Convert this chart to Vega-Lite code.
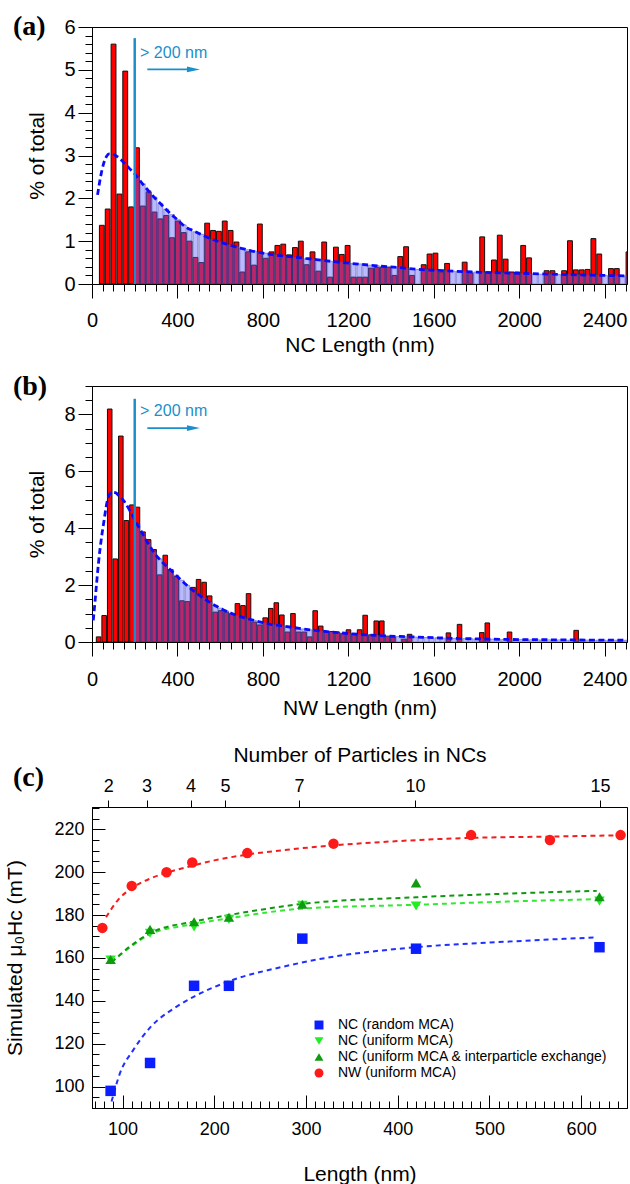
{
"$schema":"https://vega.github.io/schema/vega-lite/v6.json",
"padding":{"left":4,"top":12,"right":2,"bottom":4},
"autosize":{"type":"pad"},
"config":{"font":"Liberation Sans","view":{"stroke":"#000000","strokeWidth":1},
"axis":{"labelColor":"#000000","titleColor":"#000000","titleFontWeight":"normal","domainColor":"#000000","tickColor":"#000000","tickWidth":1,"domainWidth":1,"grid":false,"labelFont":"Liberation Sans","titleFont":"Liberation Sans","labelFlush":false,"labelOverlap":false,"labelBound":false}},
"datasets":{
"histA":[
{"L":30,"red":1.37},{"L":57.4,"red":1.75},{"L":84.8,"red":5.6},{"L":112.2,"red":2.1},{"L":139.6,"red":4.97},{"L":167,"red":1.8},
{"L":194.4,"red":3.18,"blue":2.5},{"L":221.8,"red":1.82,"blue":2.34},{"L":249.2,"red":2.15,"blue":2.18},{"L":276.6,"red":1.68,"blue":2.03},
{"L":304,"red":1.52,"blue":1.88},{"L":331.4,"red":1.6,"blue":1.75},{"L":358.8,"red":1.08,"blue":1.62},{"L":386.2,"red":1.47,"blue":1.5},
{"L":413.6,"red":1.2,"blue":1.38},{"L":441,"red":1.0,"blue":1.29},{"L":468.4,"red":0.62,"blue":1.22},{"L":495.8,"red":0.5,"blue":1.16},
{"L":523.2,"red":1.42,"blue":1.1},{"L":550.6,"red":1.25,"blue":1.04},{"L":578,"red":1.23,"blue":0.99},{"L":605.4,"red":1.47,"blue":0.95},
{"L":632.8,"red":1.25,"blue":0.91},{"L":660.2,"red":0.98,"blue":0.87},{"L":687.6,"red":0.28,"blue":0.83},{"L":715,"red":0.75,"blue":0.8},
{"L":742.4,"red":0.44,"blue":0.77},{"L":769.8,"red":1.4,"blue":0.74},{"L":797.2,"red":0.6,"blue":0.72},{"L":824.6,"red":0.75,"blue":0.7},
{"L":852,"red":0.9,"blue":0.68},{"L":879.4,"red":0.93,"blue":0.66},{"L":906.8,"red":0.68,"blue":0.64},{"L":934.2,"red":0.85,"blue":0.62},
{"L":961.6,"red":1.0,"blue":0.61},{"L":989,"red":0.45,"blue":0.59},{"L":1016.4,"red":0.75,"blue":0.58},{"L":1043.8,"red":0.3,"blue":0.56},
{"L":1071.2,"red":0.98,"blue":0.55},{"L":1098.6,"red":0.16,"blue":0.53},{"L":1126,"red":0.86,"blue":0.52},{"L":1153.4,"red":0.69,"blue":0.51},
{"L":1180.8,"red":0.9,"blue":0.49},{"L":1208.2,"red":0.16,"blue":0.48},{"L":1235.6,"red":0.16,"blue":0.47},{"L":1263,"red":0.16,"blue":0.45},
{"L":1290.4,"red":0.37,"blue":0.44},{"L":1317.8,"red":0.39,"blue":0.43},{"L":1345.2,"red":0.39,"blue":0.41},{"L":1372.6,"red":0.39,"blue":0.4},
{"L":1400,"red":0.2,"blue":0.39},{"L":1427.4,"red":0.64,"blue":0.38},{"L":1454.8,"red":0.87,"blue":0.37},{"L":1482.2,"red":0.2,"blue":0.35},
{"L":1509.6,"red":0,"blue":0.34},{"L":1537,"red":0.45,"blue":0.34},{"L":1564.4,"red":0.7,"blue":0.33},{"L":1591.8,"red":0.72,"blue":0.32},
{"L":1619.2,"red":0.28,"blue":0.32},{"L":1646.6,"red":0.48,"blue":0.31},{"L":1674,"red":0,"blue":0.3},{"L":1701.4,"red":0,"blue":0.3},
{"L":1728.8,"red":0.51,"blue":0.29},{"L":1756.2,"red":0.26,"blue":0.29},{"L":1783.6,"red":0,"blue":0.28},{"L":1811,"red":1.1,"blue":0.27},
{"L":1838.4,"red":0.28,"blue":0.27},{"L":1865.8,"red":0.56,"blue":0.26},{"L":1893.2,"red":1.14,"blue":0.26},{"L":1920.6,"red":0.58,"blue":0.26},
{"L":1948,"red":0.28,"blue":0.25},{"L":1975.4,"red":0.28,"blue":0.25},{"L":2002.8,"red":0.9,"blue":0.24},{"L":2030.2,"red":0.61,"blue":0.24},
{"L":2057.6,"red":0,"blue":0.24},{"L":2085,"red":0,"blue":0.23},{"L":2112.4,"red":0.31,"blue":0.23},{"L":2139.8,"red":0.31,"blue":0.23},
{"L":2167.2,"red":0,"blue":0.22},{"L":2194.6,"red":0.31,"blue":0.22},{"L":2222,"red":1.01,"blue":0.22},{"L":2249.4,"red":0.33,"blue":0.21},
{"L":2276.8,"red":0.33,"blue":0.21},{"L":2304.2,"red":0.34,"blue":0.21},{"L":2331.6,"red":1.06,"blue":0.21},{"L":2359,"red":0.7,"blue":0.2},
{"L":2386.4,"red":0,"blue":0.2},{"L":2413.8,"red":0.36,"blue":0.2},{"L":2441.2,"red":0.36,"blue":0.19},{"L":2468.6,"red":0,"blue":0.19},
{"L":2496,"red":0.75,"blue":0.19}
],
"histB":[
{"L":15.6,"red":0.18},{"L":41.6,"red":0.93},{"L":67.6,"red":8.19},{"L":93.6,"red":2.92},{"L":119.6,"red":7.24},{"L":145.6,"red":4.27},{"L":171.6,"red":4.82},
{"L":197.6,"red":4.74,"blue":4.15},{"L":223.6,"red":3.87,"blue":3.82},{"L":249.6,"red":3.6,"blue":3.48},{"L":275.6,"red":3.25,"blue":3.17},
{"L":301.6,"red":2.36,"blue":2.92},{"L":327.6,"red":3.05,"blue":2.72},{"L":353.6,"red":2.55,"blue":2.54},{"L":379.6,"red":2.3,"blue":2.35},
{"L":405.6,"red":1.45,"blue":2.17},{"L":431.6,"red":1.42,"blue":1.99},{"L":457.6,"red":1.92,"blue":1.83},{"L":483.6,"red":2.2,"blue":1.68},
{"L":509.6,"red":2.1,"blue":1.54},{"L":535.6,"red":1.62,"blue":1.41},{"L":561.6,"red":1.05,"blue":1.3},{"L":587.6,"red":1.1,"blue":1.19},
{"L":613.6,"red":1.05,"blue":1.09},{"L":639.6,"red":1.0,"blue":1.01},{"L":665.6,"red":1.35,"blue":0.94},{"L":691.6,"red":1.28,"blue":0.87},
{"L":717.6,"red":1.7,"blue":0.81},{"L":743.6,"red":0.7,"blue":0.76},{"L":769.6,"red":0.6,"blue":0.71},{"L":795.6,"red":0.85,"blue":0.67},
{"L":821.6,"red":1.18,"blue":0.63},{"L":847.6,"red":1.38,"blue":0.6},{"L":873.6,"red":0.95,"blue":0.57},{"L":899.6,"red":0.35,"blue":0.54},
{"L":925.6,"red":1.0,"blue":0.51},{"L":951.6,"red":0.35,"blue":0.48},{"L":977.6,"red":0.35,"blue":0.46},{"L":1003.6,"red":0.18,"blue":0.43},
{"L":1029.6,"red":1.1,"blue":0.41},{"L":1055.6,"red":0.56,"blue":0.39},{"L":1081.6,"red":0.35,"blue":0.37},{"L":1107.6,"red":0.37,"blue":0.35},
{"L":1133.6,"red":0.35,"blue":0.33},{"L":1159.6,"red":0.3,"blue":0.31},{"L":1185.6,"red":0.43,"blue":0.3},{"L":1211.6,"red":0.3,"blue":0.28},
{"L":1237.6,"red":0.43,"blue":0.27},{"L":1263.6,"red":0.94,"blue":0.26},{"L":1289.6,"red":0.25,"blue":0.245},{"L":1315.6,"red":0.74,"blue":0.23},
{"L":1341.6,"red":0.74,"blue":0.22},{"L":1367.6,"red":0.2,"blue":0.21},{"L":1393.6,"red":0.18,"blue":0.2},{"L":1419.6,"red":0,"blue":0.195},
{"L":1445.6,"red":0.1,"blue":0.19},{"L":1471.6,"red":0.27,"blue":0.18},{"L":1497.6,"red":0,"blue":0.175},{"L":1523.6,"red":0,"blue":0.17},
{"L":1549.6,"red":0,"blue":0.16},{"L":1575.6,"red":0,"blue":0.155},{"L":1601.6,"red":0,"blue":0.15},{"L":1627.6,"red":0,"blue":0.14},
{"L":1653.6,"red":0.32,"blue":0.135},{"L":1679.6,"red":0,"blue":0.13},{"L":1705.6,"red":0.62,"blue":0.125},{"L":1731.6,"red":0,"blue":0.12},
{"L":1757.6,"red":0,"blue":0.115},{"L":1783.6,"red":0,"blue":0.11},{"L":1809.6,"red":0.33,"blue":0.105},{"L":1835.6,"red":0.67,"blue":0.1},
{"L":1861.6,"red":0,"blue":0.1},{"L":1887.6,"red":0,"blue":0.095},{"L":1913.6,"red":0,"blue":0.09},{"L":1939.6,"red":0.35,"blue":0.09},
{"L":1965.6,"red":0,"blue":0.088},{"L":1991.6,"red":0,"blue":0.085},{"L":2017.6,"red":0,"blue":0.083},{"L":2043.6,"red":0,"blue":0.08},
{"L":2069.6,"red":0,"blue":0.08},{"L":2095.6,"red":0,"blue":0.078},{"L":2121.6,"red":0,"blue":0.077},{"L":2147.6,"red":0,"blue":0.075},
{"L":2173.6,"red":0,"blue":0.075},{"L":2199.6,"red":0,"blue":0.072},{"L":2225.6,"red":0,"blue":0.07},{"L":2251.6,"red":0.41,"blue":0.07},
{"L":2277.6,"red":0,"blue":0.068},{"L":2303.6,"red":0,"blue":0.067},{"L":2329.6,"red":0,"blue":0.066},{"L":2355.6,"red":0,"blue":0.065},
{"L":2381.6,"red":0,"blue":0.064},{"L":2407.6,"red":0,"blue":0.063},{"L":2433.6,"red":0,"blue":0.062},{"L":2459.6,"red":0,"blue":0.061},
{"L":2485.6,"red":0,"blue":0.06}
],
"fitA":[
{"L":26,"v":2.08},{"L":40,"v":2.5},{"L":55,"v":2.82},{"L":68,"v":2.98},{"L":80,"v":3.04},{"L":95,"v":3.04},{"L":110,"v":3.0},{"L":125,"v":2.95},
{"L":150,"v":2.83},{"L":175,"v":2.7},{"L":200,"v":2.57},{"L":230,"v":2.38},{"L":260,"v":2.2},{"L":290,"v":2.03},{"L":320,"v":1.88},{"L":357,"v":1.69},
{"L":400,"v":1.5},{"L":436,"v":1.34},{"L":475,"v":1.24},{"L":514,"v":1.15},{"L":550,"v":1.07},{"L":592,"v":0.99},{"L":630,"v":0.93},{"L":670,"v":0.87},
{"L":710,"v":0.82},{"L":748,"v":0.77},{"L":790,"v":0.73},{"L":826,"v":0.7},{"L":865,"v":0.67},{"L":904,"v":0.65},{"L":1000,"v":0.6},{"L":1100,"v":0.54},
{"L":1216,"v":0.48},{"L":1300,"v":0.44},{"L":1400,"v":0.4},{"L":1528,"v":0.34},{"L":1650,"v":0.31},{"L":1841,"v":0.27},{"L":2000,"v":0.25},
{"L":2153,"v":0.23},{"L":2300,"v":0.21},{"L":2505,"v":0.19}
],
"fitB":[
{"L":6,"v":0.76},{"L":15,"v":1.5},{"L":22,"v":2.1},{"L":30,"v":2.75},{"L":45,"v":3.7},{"L":55,"v":4.2},{"L":70,"v":4.9},{"L":92,"v":5.27},
{"L":110,"v":5.25},{"L":125,"v":5.15},{"L":150,"v":4.95},{"L":175,"v":4.65},{"L":200,"v":4.3},{"L":233,"v":3.86},{"L":260,"v":3.5},{"L":290,"v":3.15},
{"L":330,"v":2.8},{"L":358,"v":2.6},{"L":400,"v":2.3},{"L":436,"v":2.05},{"L":475,"v":1.8},{"L":514,"v":1.58},{"L":550,"v":1.4},{"L":592,"v":1.22},
{"L":630,"v":1.08},{"L":670,"v":0.96},{"L":710,"v":0.86},{"L":748,"v":0.78},{"L":790,"v":0.7},{"L":826,"v":0.64},{"L":905,"v":0.55},{"L":1021,"v":0.43},
{"L":1150,"v":0.33},{"L":1333,"v":0.23},{"L":1500,"v":0.18},{"L":1646,"v":0.14},{"L":1800,"v":0.11},{"L":1958,"v":0.09},{"L":2200,"v":0.075},{"L":2505,"v":0.06}
],
"sim":[
{"s":"NC (random MCA)","L":87,"H":98},{"s":"NC (random MCA)","L":130,"H":111},{"s":"NC (random MCA)","L":178,"H":147},{"s":"NC (random MCA)","L":216,"H":147},
{"s":"NC (random MCA)","L":296,"H":169},{"s":"NC (random MCA)","L":420,"H":164.3},{"s":"NC (random MCA)","L":620,"H":165},
{"s":"NC (uniform MCA)","L":87,"H":159},{"s":"NC (uniform MCA)","L":130,"H":171.5},{"s":"NC (uniform MCA)","L":178,"H":174.5},{"s":"NC (uniform MCA)","L":216,"H":178},
{"s":"NC (uniform MCA)","L":296,"H":184.5},{"s":"NC (uniform MCA)","L":420,"H":184.2},{"s":"NC (uniform MCA)","L":620,"H":186.5},
{"s":"NC (uniform MCA & interparticle exchange)","L":87,"H":159.3},{"s":"NC (uniform MCA & interparticle exchange)","L":130,"H":173.3},
{"s":"NC (uniform MCA & interparticle exchange)","L":178,"H":176.9},{"s":"NC (uniform MCA & interparticle exchange)","L":216,"H":179},
{"s":"NC (uniform MCA & interparticle exchange)","L":296,"H":185},{"s":"NC (uniform MCA & interparticle exchange)","L":420,"H":195},
{"s":"NC (uniform MCA & interparticle exchange)","L":620,"H":188.5},
{"s":"NW (uniform MCA)","L":78,"H":174},{"s":"NW (uniform MCA)","L":110,"H":193.6},{"s":"NW (uniform MCA)","L":148,"H":200},{"s":"NW (uniform MCA)","L":176,"H":204.5},
{"s":"NW (uniform MCA)","L":236,"H":208.9},{"s":"NW (uniform MCA)","L":330,"H":213.3},{"s":"NW (uniform MCA)","L":480,"H":217.3},{"s":"NW (uniform MCA)","L":566,"H":215},
{"s":"NW (uniform MCA)","L":643,"H":217.3}
],
"fits":[
{"s":"NC (random MCA)","L":88,"H":93},{"s":"NC (random MCA)","L":97,"H":106},{"s":"NC (random MCA)","L":111.6,"H":117},{"s":"NC (random MCA)","L":130,"H":127.5},
{"s":"NC (random MCA)","L":159,"H":137.3},{"s":"NC (random MCA)","L":178,"H":142},{"s":"NC (random MCA)","L":220,"H":149.7},{"s":"NC (random MCA)","L":275,"H":155.9},
{"s":"NC (random MCA)","L":315,"H":159.5},{"s":"NC (random MCA)","L":420,"H":165},{"s":"NC (random MCA)","L":520,"H":167.6},{"s":"NC (random MCA)","L":617,"H":169.6},
{"s":"NC (uniform MCA)","L":88,"H":158},{"s":"NC (uniform MCA)","L":110,"H":165.5},{"s":"NC (uniform MCA)","L":130,"H":171},{"s":"NC (uniform MCA)","L":178,"H":175.8},
{"s":"NC (uniform MCA)","L":216,"H":178.5},{"s":"NC (uniform MCA)","L":296,"H":183},{"s":"NC (uniform MCA)","L":420,"H":184.8},{"s":"NC (uniform MCA)","L":520,"H":186.3},
{"s":"NC (uniform MCA)","L":617,"H":187.4},
{"s":"NC (uniform MCA & interparticle exchange)","L":88,"H":158},{"s":"NC (uniform MCA & interparticle exchange)","L":110,"H":166},
{"s":"NC (uniform MCA & interparticle exchange)","L":130,"H":171.5},{"s":"NC (uniform MCA & interparticle exchange)","L":178,"H":177},
{"s":"NC (uniform MCA & interparticle exchange)","L":216,"H":180},{"s":"NC (uniform MCA & interparticle exchange)","L":296,"H":185.2},
{"s":"NC (uniform MCA & interparticle exchange)","L":420,"H":188.3},{"s":"NC (uniform MCA & interparticle exchange)","L":520,"H":190},
{"s":"NC (uniform MCA & interparticle exchange)","L":617,"H":191.3},
{"s":"NW (uniform MCA)","L":82,"H":179},{"s":"NW (uniform MCA)","L":95,"H":187},{"s":"NW (uniform MCA)","L":110,"H":192.5},{"s":"NW (uniform MCA)","L":130,"H":197},
{"s":"NW (uniform MCA)","L":150,"H":200},{"s":"NW (uniform MCA)","L":176,"H":203},{"s":"NW (uniform MCA)","L":200,"H":205.5},{"s":"NW (uniform MCA)","L":236,"H":208.2},
{"s":"NW (uniform MCA)","L":280,"H":210.5},{"s":"NW (uniform MCA)","L":330,"H":212.5},{"s":"NW (uniform MCA)","L":400,"H":214.5},{"s":"NW (uniform MCA)","L":480,"H":216},
{"s":"NW (uniform MCA)","L":566,"H":216.6},{"s":"NW (uniform MCA)","L":643,"H":217.2}
]
},
"spacing":24,
"vconcat":[
{"spacing":16,"vconcat":[
{"width":535,"height":257,"resolve":{"axis":{"x":"independent","y":"independent"}},"layer":[
{"data":{"name":"histA"},"transform":[{"filter":"datum.red > 0"}],
"mark":{"type":"bar","fill":"#ff0000","stroke":"#111111","strokeWidth":1,"clip":true},
"encoding":{
"x":{"field":"L","type":"quantitative","bin":{"binned":true,"step":27.4},"scale":{"domain":[0,2505],"nice":false,"zero":false},
"axis":{"orient":"bottom","title":"NC Length (nm)","values":[0,400,800,1200,1600,2000,2400],"format":"d","tickSize":14,"labelPadding":12,"labelFontSize":20,"titleFontSize":21,"titlePadding":4}},
"y":{"field":"red","type":"quantitative","scale":{"domain":[0,6],"nice":false},
"axis":{"orient":"left","title":"% of total","values":[0,1,2,3,4,5,6],"format":"d","tickSize":14,"labelPadding":3,"labelFontSize":20,"titleFontSize":21,"titlePadding":16}}}},
{"data":{"name":"histA"},"transform":[{"filter":"datum.blue > 0"}],
"mark":{"type":"bar","fill":"#5a5aff","fillOpacity":0.42,"stroke":"#4a4ab0","strokeWidth":0.7,"strokeOpacity":0.7,"clip":true},
"encoding":{"x":{"field":"L","type":"quantitative","bin":{"binned":true,"step":27.4},
"axis":{"orient":"bottom","title":null,"labels":false,"domain":false,"tickSize":7,"values":[0,50,100,150,200,250,300,350,400,450,500,550,600,650,700,750,800,850,900,950,1000,1050,1100,1150,1200,1250,1300,1350,1400,1450,1500,1550,1600,1650,1700,1750,1800,1850,1900,1950,2000,2050,2100,2150,2200,2250,2300,2350,2400,2450,2500]}},
"y":{"field":"blue","type":"quantitative",
"axis":{"orient":"left","title":null,"labels":false,"domain":false,"tickSize":7,"values":[0,0.2,0.4,0.6,0.8,1,1.2,1.4,1.6,1.8,2,2.2,2.4,2.6,2.8,3,3.2,3.4,3.6,3.8,4,4.2,4.4,4.6,4.8,5,5.2,5.4,5.6,5.8,6]}}}},
{"data":{"name":"fitA"},"mark":{"type":"line","stroke":"#0a0aff","strokeWidth":2.8,"strokeDash":[6,3.5],"interpolate":"monotone","clip":true},
"encoding":{"x":{"field":"L","type":"quantitative","axis":null},"y":{"field":"v","type":"quantitative","axis":null}}},
{"data":{"values":[{}]},"mark":{"type":"rule","stroke":"#1b8fcb","strokeWidth":2.5},
"encoding":{"x":{"datum":200,"axis":null},"y":{"datum":0,"axis":null},"y2":{"datum":5.74}}},
{"data":{"values":[{}]},"mark":{"type":"text","text":"> 200 nm","color":"#1b8fcb","fontSize":16,"align":"left","baseline":"middle"},
"encoding":{"x":{"datum":225,"axis":null},"y":{"datum":5.4,"axis":null}}},
{"data":{"values":[{}]},"mark":{"type":"rule","stroke":"#1b8fcb","strokeWidth":1.7},
"encoding":{"x":{"datum":259,"axis":null},"x2":{"datum":475},"y":{"datum":5.01,"axis":null}}},
{"data":{"values":[{}]},"mark":{"type":"point","shape":"M-1,-0.45L1,0L-1,0.45Z","size":169,"filled":true,"color":"#1b8fcb","opacity":1},
"encoding":{"x":{"datum":475,"axis":null},"y":{"datum":5.01,"axis":null}}},
{"data":{"values":[{}]},"mark":{"type":"text","text":"(a)","font":"Liberation Serif","fontSize":28,"fontWeight":"bold","align":"left","baseline":"alphabetic","clip":false},
"encoding":{"x":{"datum":-370,"axis":null},"y":{"datum":5.81,"axis":null}}}
]},
{"width":535,"height":256,"resolve":{"axis":{"x":"independent","y":"independent"}},"layer":[
{"data":{"name":"histB"},"transform":[{"filter":"datum.red > 0"}],
"mark":{"type":"bar","fill":"#ff0000","stroke":"#111111","strokeWidth":1,"clip":true},
"encoding":{
"x":{"field":"L","type":"quantitative","bin":{"binned":true,"step":26},"scale":{"domain":[0,2505],"nice":false,"zero":false},
"axis":{"orient":"bottom","title":"NW Length (nm)","values":[0,400,800,1200,1600,2000,2400],"format":"d","tickSize":14,"labelPadding":13,"labelFontSize":20,"titleFontSize":21,"titlePadding":8}},
"y":{"field":"red","type":"quantitative","scale":{"domain":[0,9],"nice":false},
"axis":{"orient":"left","title":"% of total","values":[0,2,4,6,8],"format":"d","tickSize":14,"labelPadding":3,"labelFontSize":20,"titleFontSize":21,"titlePadding":16}}}},
{"data":{"name":"histB"},"transform":[{"filter":"datum.blue > 0"}],
"mark":{"type":"bar","fill":"#5a5aff","fillOpacity":0.42,"stroke":"#4a4ab0","strokeWidth":0.7,"strokeOpacity":0.7,"clip":true},
"encoding":{"x":{"field":"L","type":"quantitative","bin":{"binned":true,"step":26},
"axis":{"orient":"bottom","title":null,"labels":false,"domain":false,"tickSize":7,"values":[0,50,100,150,200,250,300,350,400,450,500,550,600,650,700,750,800,850,900,950,1000,1050,1100,1150,1200,1250,1300,1350,1400,1450,1500,1550,1600,1650,1700,1750,1800,1850,1900,1950,2000,2050,2100,2150,2200,2250,2300,2350,2400,2450,2500]}},
"y":{"field":"blue","type":"quantitative",
"axis":{"orient":"left","title":null,"labels":false,"domain":false,"tickSize":7,"values":[0,0.5,1,1.5,2,2.5,3,3.5,4,4.5,5,5.5,6,6.5,7,7.5,8,8.5,9]}}}},
{"data":{"name":"fitB"},"mark":{"type":"line","stroke":"#0a0aff","strokeWidth":2.8,"strokeDash":[6,3.5],"interpolate":"monotone","clip":true},
"encoding":{"x":{"field":"L","type":"quantitative","axis":null},"y":{"field":"v","type":"quantitative","axis":null}}},
{"data":{"values":[{}]},"mark":{"type":"rule","stroke":"#1b8fcb","strokeWidth":2.5},
"encoding":{"x":{"datum":200,"axis":null},"y":{"datum":0,"axis":null},"y2":{"datum":8.55}}},
{"data":{"values":[{}]},"mark":{"type":"text","text":"> 200 nm","color":"#1b8fcb","fontSize":16,"align":"left","baseline":"middle"},
"encoding":{"x":{"datum":225,"axis":null},"y":{"datum":8.12,"axis":null}}},
{"data":{"values":[{}]},"mark":{"type":"rule","stroke":"#1b8fcb","strokeWidth":1.7},
"encoding":{"x":{"datum":259,"axis":null},"x2":{"datum":475},"y":{"datum":7.52,"axis":null}}},
{"data":{"values":[{}]},"mark":{"type":"point","shape":"M-1,-0.45L1,0L-1,0.45Z","size":169,"filled":true,"color":"#1b8fcb","opacity":1},
"encoding":{"x":{"datum":475,"axis":null},"y":{"datum":7.52,"axis":null}}},
{"data":{"values":[{}]},"mark":{"type":"text","text":"(b)","font":"Liberation Serif","fontSize":28,"fontWeight":"bold","align":"left","baseline":"alphabetic","clip":false},
"encoding":{"x":{"datum":-370,"axis":null},"y":{"datum":8.67,"axis":null}}}
]}
]},
{"width":535,"height":301,"resolve":{"axis":{"x":"independent","y":"independent"}},"layer":[
{"data":{"name":"fits"},"transform":[{"filter":"datum.s === 'NC (random MCA)'"}],
"mark":{"type":"line","stroke":"#1f2fff","strokeWidth":2,"strokeDash":[5,4],"interpolate":"monotone"},
"encoding":{"x":{"field":"L","type":"quantitative","scale":{"domain":[66.7,650],"nice":false,"zero":false},
"axis":{"orient":"top","title":"Number of Particles in NCs","values":[84.3,126.2,174.2,211.6,292.3,418.9,620.7],
"labelExpr":"datum.value < 100 ? '2' : datum.value < 150 ? '3' : datum.value < 190 ? '4' : datum.value < 250 ? '5' : datum.value < 350 ? '7' : datum.value < 500 ? '10' : '15'",
"tickSize":7,"labelPadding":5,"labelFontSize":18,"titleFontSize":21,"titlePadding":12}},
"y":{"field":"H","type":"quantitative","scale":{"domain":[90,230.4],"nice":false,"zero":false},
"axis":{"orient":"left","title":null,"labels":false,"domain":false,"tickSize":-7,"values":[90,95,100,105,110,115,120,125,130,135,140,145,150,155,160,165,170,175,180,185,190,195,200,205,210,215,220,225,230]}}}},
{"data":{"name":"fits"},"transform":[{"filter":"datum.s === 'NC (uniform MCA)'"}],
"mark":{"type":"line","stroke":"#33e833","strokeWidth":2,"strokeDash":[5,4],"interpolate":"monotone"},
"encoding":{"x":{"field":"L","type":"quantitative",
"axis":{"orient":"bottom","title":null,"labels":false,"domain":false,"tickSize":-7,"values":[70,80,90,100,110,120,130,140,150,160,170,180,190,200,210,220,230,240,250,260,270,280,290,300,310,320,330,340,350,360,370,380,390,400,410,420,430,440,450,460,470,480,490,500,510,520,530,540,550,560,570,580,590,600,610,620,630,640,650]}},
"y":{"field":"H","type":"quantitative","axis":null}}},
{"data":{"name":"fits"},"transform":[{"filter":"datum.s === 'NC (uniform MCA & interparticle exchange)'"}],
"mark":{"type":"line","stroke":"#129612","strokeWidth":2,"strokeDash":[5,4],"interpolate":"monotone"},
"encoding":{"x":{"field":"L","type":"quantitative","axis":null},"y":{"field":"H","type":"quantitative","axis":null}}},
{"data":{"name":"fits"},"transform":[{"filter":"datum.s === 'NW (uniform MCA)'"}],
"mark":{"type":"line","stroke":"#f01e1e","strokeWidth":2,"strokeDash":[5,4],"interpolate":"monotone"},
"encoding":{"x":{"field":"L","type":"quantitative","axis":null},"y":{"field":"H","type":"quantitative","axis":null}}},
{"data":{"name":"sim"},"mark":{"type":"point","filled":true,"size":110,"opacity":1},
"encoding":{
"x":{"field":"L","type":"quantitative",
"axis":{"orient":"bottom","title":"Length (nm)","values":[100,200,300,400,500,600],"format":"d","tickSize":-13,"labelPadding":25,"labelFontSize":18,"titleFontSize":21,"titlePadding":25}},
"y":{"field":"H","type":"quantitative",
"axis":{"orient":"left","title":"Simulated μ₀Hc (mT)","values":[100,120,140,160,180,200,220],"format":"d","tickSize":-13,"labelPadding":21,"labelFontSize":18,"titleFontSize":21,"titlePadding":28}},
"color":{"field":"s","type":"nominal","scale":{"domain":["NC (random MCA)","NC (uniform MCA)","NC (uniform MCA & interparticle exchange)","NW (uniform MCA)"],"range":["#0a1eff","#22ee22","#109a10","#ff1a1a"]},
"legend":{"orient":"none","legendX":220,"legendY":991,"title":null,"labelFontSize":14,"labelLimit":400,"symbolSize":80,"labelOffset":12,"rowPadding":2}},
"shape":{"field":"s","type":"nominal","scale":{"domain":["NC (random MCA)","NC (uniform MCA)","NC (uniform MCA & interparticle exchange)","NW (uniform MCA)"],"range":["square","triangle-down","triangle-up","circle"]}}}},
{"data":{"values":[{}]},"mark":{"type":"text","text":"(c)","font":"Liberation Serif","fontSize":28,"fontWeight":"bold","align":"left","baseline":"alphabetic","clip":false},
"encoding":{"x":{"datum":-19.5,"axis":null},"y":{"datum":240,"axis":null}}}
]}
]
}
